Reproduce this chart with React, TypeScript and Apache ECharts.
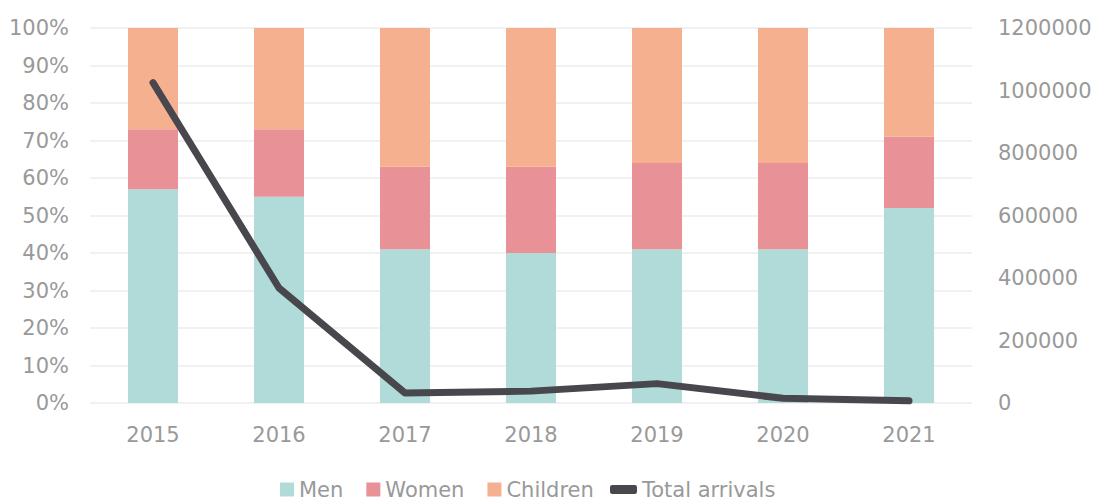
import React, { useEffect, useRef } from "react";
import * as echarts from "echarts";

const years = ["2015", "2016", "2017", "2018", "2019", "2020", "2021"];
const men = [57, 55, 41, 40, 41, 41, 52];
const women = [16, 18, 22, 23, 23, 23, 19];
const children = [27, 27, 37, 37, 36, 36, 29];
const totalArrivals = [1025000, 368000, 32000, 38000, 62000, 15000, 7000];

const FONT = "'DejaVu Sans', sans-serif";
const TEXT_COLOR = "#999999";
const FS = 21;

export default function App() {
  const ref = useRef<HTMLDivElement>(null);
  useEffect(() => {
    if (!ref.current) return;
    const chart = echarts.init(ref.current, undefined, { renderer: "svg" });
    const legendText = { fontSize: FS, color: TEXT_COLOR, fontFamily: FONT, lineHeight: 21 };
    chart.setOption({
      animation: false,
      textStyle: { fontFamily: FONT },
      grid: { left: 90, right: 129, top: 28, bottom: 99 },
      legend: [
        {
          left: 280,
          top: 479,
          padding: 0,
          itemWidth: 14,
          itemHeight: 14,
          itemGap: 23,
          icon: "rect",
          textStyle: legendText,
          data: ["Men", "Women", "Children"],
        },
        {
          left: 610,
          top: 479,
          padding: 0,
          itemWidth: 27,
          itemHeight: 9,
          icon: "roundRect",
          textStyle: legendText,
          data: ["Total arrivals"],
        },
      ],
      xAxis: {
        type: "category",
        data: years,
        axisLine: { show: false },
        axisTick: { show: false },
        axisLabel: { fontSize: FS, color: TEXT_COLOR, margin: 21, fontFamily: FONT },
      },
      yAxis: [
        {
          type: "value",
          min: 0,
          max: 100,
          interval: 10,
          axisLabel: { formatter: "{value}%", fontSize: FS, color: TEXT_COLOR, margin: 21, fontFamily: FONT },
          splitLine: { lineStyle: { color: "#ececec", width: 1.5 } },
          axisLine: { show: false },
          axisTick: { show: false },
        },
        {
          type: "value",
          min: 0,
          max: 1200000,
          interval: 200000,
          axisLabel: {
            formatter: (v: number) => String(v),
            fontSize: FS,
            color: TEXT_COLOR,
            margin: 26,
            fontFamily: FONT,
          },
          splitLine: { show: false },
          axisLine: { show: false },
          axisTick: { show: false },
        },
      ],
      series: [
        { name: "Men", type: "bar", stack: "p", data: men, barWidth: 50, itemStyle: { color: "#b0dbd8" } },
        { name: "Women", type: "bar", stack: "p", data: women, barWidth: 50, itemStyle: { color: "#e89196" } },
        { name: "Children", type: "bar", stack: "p", data: children, barWidth: 50, itemStyle: { color: "#f5b08f" } },
        {
          name: "Total arrivals",
          type: "line",
          yAxisIndex: 1,
          data: totalArrivals,
          symbol: "none",
          color: "#48474d",
          lineStyle: { color: "#48474d", width: 7, cap: "round", join: "round" },
          itemStyle: { color: "#48474d" },
        },
      ],
    });
    return () => chart.dispose();
  }, []);
  return (
    <div
      ref={ref}
      style={{ position: "absolute", left: 0, top: 0, width: 1101, height: 502, background: "#fff" }}
    />
  );
}
